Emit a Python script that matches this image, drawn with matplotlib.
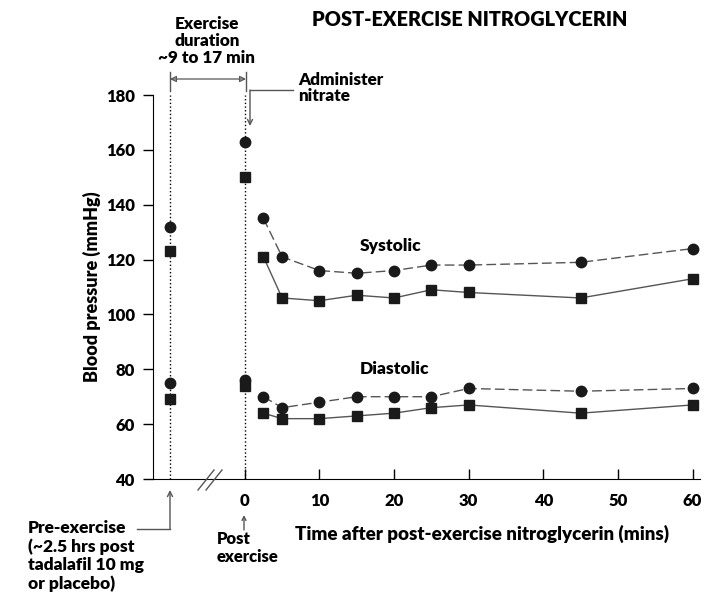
import matplotlib
matplotlib.use("Agg")
import matplotlib.pyplot as plt
from matplotlib.lines import Line2D

plt.rcParams['font.family'] = ['Lato', 'DejaVu Sans']
plt.rcParams['font.weight'] = 'heavy'
WT = 'heavy'

# time points after nitroglycerin (mins)
times = [2.5, 5, 10, 15, 20, 25, 30, 45, 60]
sys_circle = [135, 121, 116, 115, 116, 118, 118, 119, 124]
sys_square = [121, 106, 105, 107, 106, 109, 108, 106, 113]
dia_circle = [70, 66, 68, 70, 70, 70, 73, 72, 73]
dia_square = [64, 62, 62, 63, 64, 66, 67, 64, 67]

# pre-exercise (plotted at -10) and immediately post exercise (0)
pre_x, post_x = -10, 0
pre_circle = [132, 75]
pre_square = [123, 69]
post_circle = [163, 76]
post_square = [150, 74]

xticks = [0, 10, 20, 30, 40, 50, 60]
yticks = [40, 60, 80, 100, 120, 140, 160, 180]

W, H = 709, 593


def px(x, y):
    return x / W, 1 - y / H


fig = plt.figure(figsize=(W / 100, H / 100), dpi=100)
ax = fig.add_axes([153 / W, 1 - 479 / H, (700 - 153) / W, (479 - 95) / H])

line_col = '#555555'
mk_col = '#1a1a1a'

ax.axvline(pre_x, ls=':', color='black', lw=1)
ax.axvline(post_x, ls=':', color='black', lw=1)

ax.plot(times, sys_circle, ls=(0, (7, 3)), color=line_col, lw=1,
        marker='o', ms=7.5, mfc=mk_col, mec=mk_col)
ax.plot(times, dia_circle, ls=(0, (7, 3)), color=line_col, lw=1,
        marker='o', ms=7.5, mfc=mk_col, mec=mk_col)
ax.plot(times, sys_square, ls='-', color=line_col, lw=1,
        marker='s', ms=7, mfc=mk_col, mec=mk_col)
ax.plot(times, dia_square, ls='-', color=line_col, lw=1,
        marker='s', ms=7, mfc=mk_col, mec=mk_col)

ax.plot([pre_x] * 2, pre_circle, 'o', ms=7.5, color=mk_col, ls='none')
ax.plot([pre_x] * 2, pre_square, 's', ms=7, color=mk_col, ls='none')
ax.plot([post_x] * 2, post_circle, 'o', ms=7.5, color=mk_col, ls='none')
ax.plot([post_x] * 2, post_square, 's', ms=7, color=mk_col, ls='none')

ax.set_xlim(-12.3, 61)
ax.set_ylim(40, 180)
ax.spines['top'].set_visible(False)
ax.spines['right'].set_visible(False)
ax.set_xticks(xticks)
ax.set_yticks(yticks)
ax.tick_params(axis='x', direction='in', length=7, width=1, pad=10, labelsize=12)
ax.tick_params(axis='y', direction='out', length=7, width=1, pad=6, labelsize=12)
for lab in ax.get_xticklabels() + ax.get_yticklabels():
    lab.set_fontweight(WT)

ax.set_ylabel('Blood pressure (mmHg)', fontsize=13, fontweight=WT)
ax.yaxis.set_label_coords(-(153 - 101) / (700 - 153), 0.5)
ax.set_xlabel('Time after post-exercise nitroglycerin (mins)', fontsize=13.5,
              fontweight=WT)
ax.xaxis.set_label_coords((482 - 153) / (700 - 153), -(534 - 479) / (479 - 95))
ax.xaxis.label.set_va('center')

ax.text(15.4, 125, 'Systolic', fontsize=12.5, fontweight=WT, va='center', ha='left')
ax.text(15.4, 80, 'Diastolic', fontsize=12.5, fontweight=WT, va='center', ha='left')

# break marks on x-axis
for dx in (0, 8):
    fig.add_artist(Line2D([(198 + dx) / W, (214 + dx) / W],
                          [1 - 490 / H, 1 - 470 / H], color=line_col, lw=1))

# title and top annotations
fig.text(*px(470, 20), 'POST-EXERCISE NITROGLYCERIN', fontsize=14.3,
         fontweight=WT, ha='center', va='center')
fig.text(*px(207, 41), 'Exercise\nduration\n~9 to 17 min', fontsize=12.3,
         fontweight=WT, ha='center', va='center', linespacing=1.1)
fig.text(*px(298, 88), 'Administer\nnitrate', fontsize=12.3,
         fontweight=WT, ha='left', va='center', linespacing=1.05)

# exercise duration double arrow
for xx in (170, 246):
    fig.add_artist(Line2D([xx / W] * 2, [1 - 72 / H, 1 - 91 / H], color=line_col, lw=1))
ax.annotate('', xy=px(246, 79), xytext=px(170, 79), xycoords='figure fraction',
            textcoords='figure fraction',
            arrowprops=dict(arrowstyle='<|-|>', color=line_col, lw=0.9,
                            mutation_scale=9, fill=False, shrinkA=0, shrinkB=0))

# administer nitrate elbow arrow
fig.add_artist(Line2D([293 / W, 250 / W], [1 - 90 / H, 1 - 90 / H], color=line_col, lw=1))
ax.annotate('', xy=px(250, 126), xytext=px(250, 90), xycoords='figure fraction',
            textcoords='figure fraction',
            arrowprops=dict(arrowstyle='->', color=line_col, lw=1,
                            mutation_scale=9, shrinkA=0, shrinkB=0))

# pre-exercise annotation
fig.text(*px(28, 556), 'Pre-exercise\n(~2.5 hrs post\ntadalafil 10 mg\nor placebo)',
         fontsize=12.5, fontweight=WT, ha='left', va='center', linespacing=1.15)
fig.add_artist(Line2D([137 / W, 170 / W], [1 - 529 / H, 1 - 529 / H], color=line_col, lw=1))
ax.annotate('', xy=px(170, 490), xytext=px(170, 529), xycoords='figure fraction',
            textcoords='figure fraction',
            arrowprops=dict(arrowstyle='->', color=line_col, lw=1,
                            mutation_scale=9, shrinkA=0, shrinkB=0))

# post exercise annotation
fig.text(*px(217, 548), 'Post\nexercise', fontsize=12, fontweight=WT,
         ha='left', va='center', linespacing=1.15)
ax.annotate('', xy=px(244, 515), xytext=px(244, 530), xycoords='figure fraction',
            textcoords='figure fraction',
            arrowprops=dict(arrowstyle='->', color=line_col, lw=1,
                            mutation_scale=7, shrinkA=0, shrinkB=0))

fig.savefig('out.png', dpi=100)
